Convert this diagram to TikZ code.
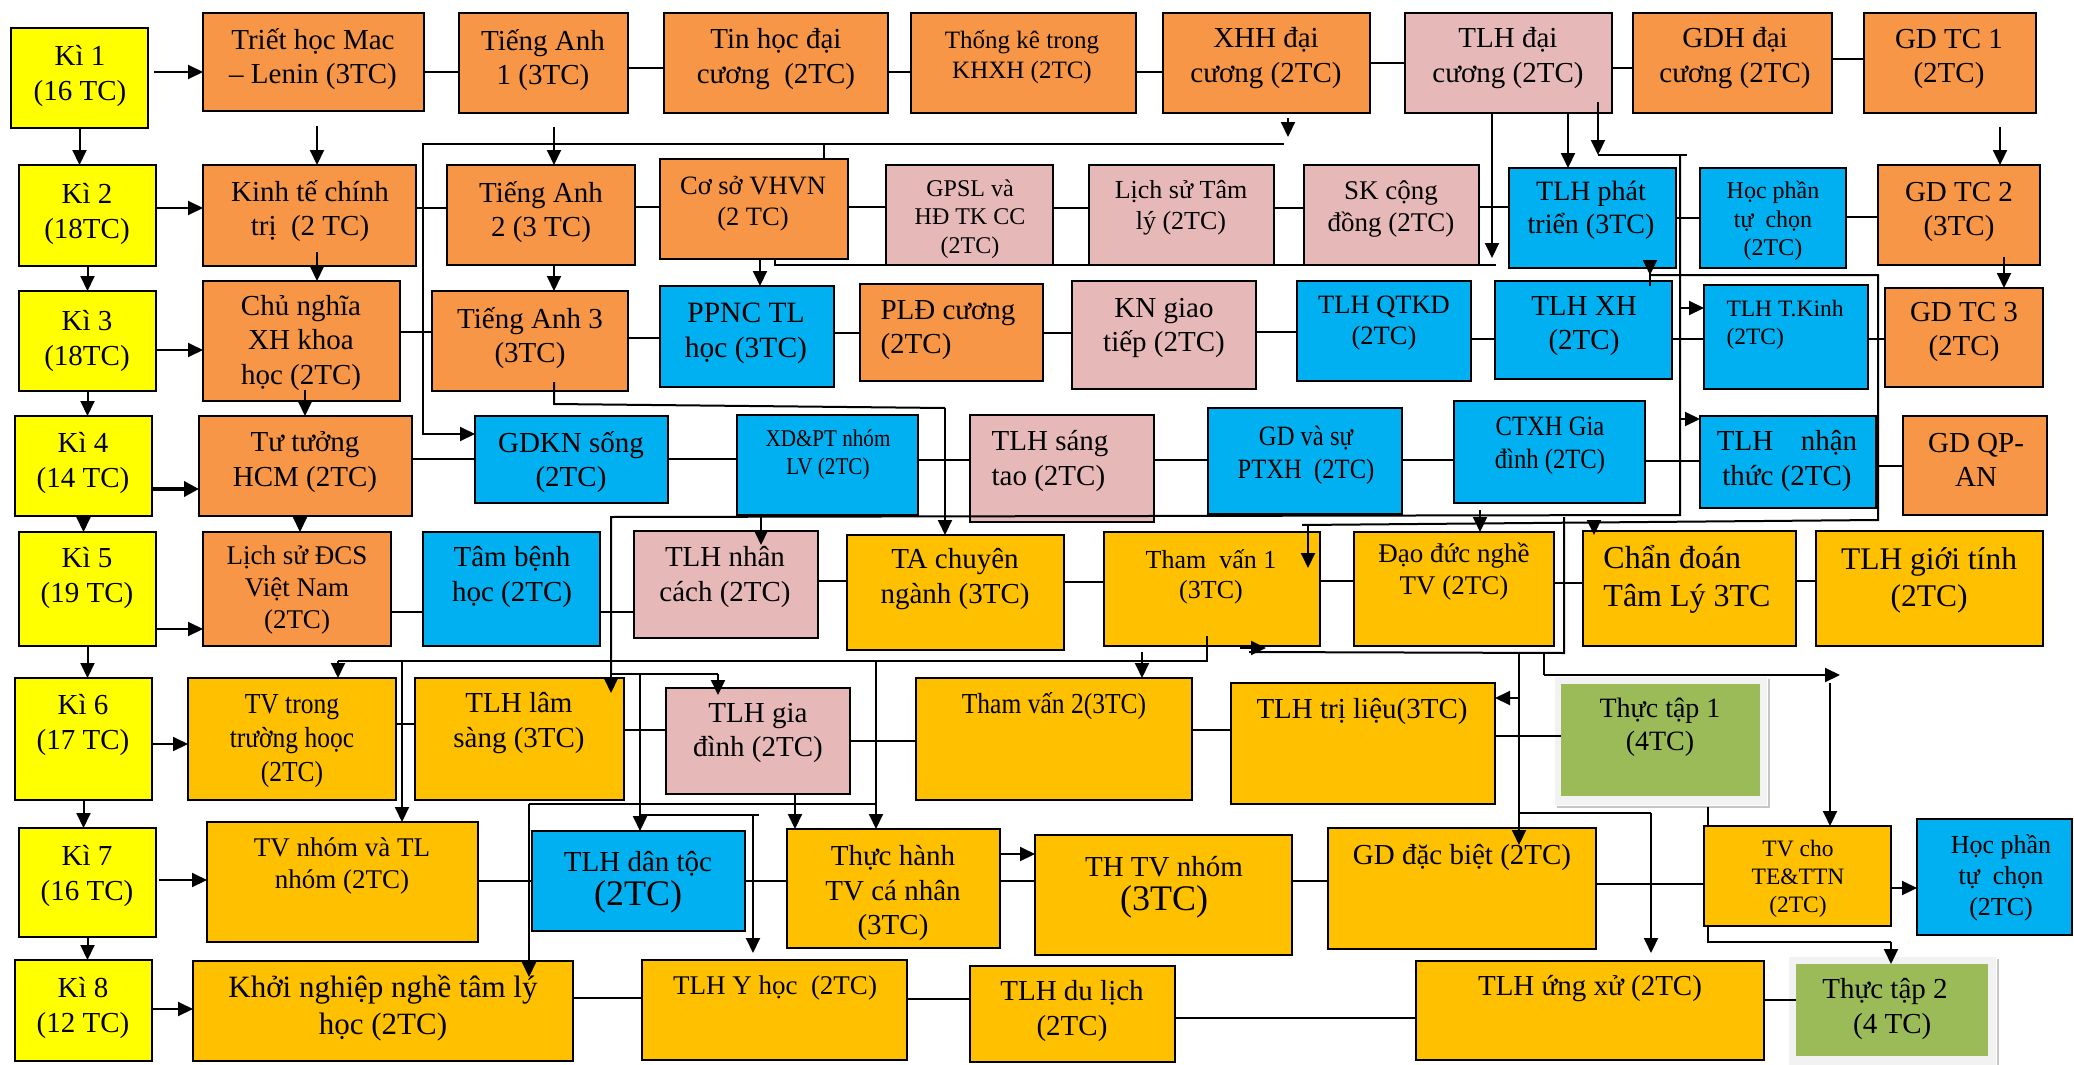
\documentclass[tikz,border=0pt]{standalone}
\usepackage{fontspec}
\setmainfont{Liberation Serif}
\newfontfamily\cond[FakeStretch=0.88]{Liberation Serif}
\usetikzlibrary{arrows.meta}
\definecolor{cYel}{HTML}{FFFF00}
\definecolor{cOrg}{HTML}{F79646}
\definecolor{cPnk}{HTML}{E6B9B8}
\definecolor{cBlu}{HTML}{00B0F0}
\definecolor{cGld}{HTML}{FFC000}
\definecolor{cGrn}{HTML}{9BBB59}
\definecolor{cFrm}{HTML}{F2F2F2}
\newcommand\FS[1]{\fontsize{#1}{\fpeval{1.18*#1}}\selectfont}
\newcommand\Bx[6]{\node[#2, minimum width={#5-#3}, minimum height={#6-#4}] (#1) at ({(#3+#5)/2},{(#4+#6)/2}) {};}
\newcommand\Tx[6][]{\node[lbl, font=\FS{#5}, #1] (#2-t) at (#3,#4) {#6};}
\begin{document}
\begin{tikzpicture}[x=1pt,y=-1pt,
 box/.style={draw=black,line width=2pt,inner sep=0pt,outer sep=0pt},
 yel/.style={box,fill=cYel}, org/.style={box,fill=cOrg}, pnk/.style={box,fill=cPnk},
 blu/.style={box,fill=cBlu}, gld/.style={box,fill=cGld},
 grn/.style={fill=cGrn,inner sep=0pt,outer sep=0pt},
 lbl/.style={align=center,inner sep=0pt,text=black},
 cn/.style={line width=2pt},
 ca/.style={line width=2pt,-{Triangle[length=15pt,width=14pt]}}]
\fill[white] (0,0) rectangle (2074,1065);
\useasboundingbox (0,0) rectangle (2074,1065);
% ---------- boxes ----------
\Bx{k1}{yel}{11}{28}{148}{128}
\Bx{k2}{yel}{19}{165}{156}{266}
\Bx{k3}{yel}{19}{291}{156}{391}
\Bx{k4}{yel}{15}{416}{152}{516}
\Bx{k5}{yel}{19}{532}{156}{646}
\Bx{k6}{yel}{15}{678}{152}{800}
\Bx{k7}{yel}{19}{828}{156}{937}
\Bx{k8}{yel}{15}{960}{152}{1061}
\Bx{tri}{org}{203}{13}{424}{111}
\Bx{ta1}{org}{459}{13}{628}{113}
\Bx{tin}{org}{664}{13}{888}{113}
\Bx{tk}{org}{911}{13}{1136}{113}
\Bx{xhh}{org}{1163}{13}{1370}{113}
\Bx{tlhdc}{pnk}{1405}{13}{1612}{113}
\Bx{gdh}{org}{1633}{13}{1832}{113}
\Bx{gdtc1}{org}{1864}{13}{2036}{113}
\Bx{kt}{org}{203}{165}{416}{266}
\Bx{ta2}{org}{447}{165}{635}{265}
\Bx{csvh}{org}{660}{159}{848}{259}
\Bx{gpsl}{pnk}{886}{165}{1053}{265}
\Bx{lstl}{pnk}{1089}{165}{1274}{265}
\Bx{skcd}{pnk}{1304}{165}{1479}{265}
\Bx{tlhpt}{blu}{1509}{168}{1676}{268}
\Bx{hp1}{blu}{1700}{168}{1846}{268}
\Bx{gdtc2}{org}{1878}{165}{2040}{265}
\Bx{cnxh}{org}{203}{281}{400}{401}
\Bx{ta3}{org}{432}{291}{628}{391}
\Bx{ppnc}{blu}{660}{286}{834}{387}
\Bx{pld}{org}{860}{284}{1043}{381}
\Bx{kngt}{pnk}{1072}{281}{1256}{389}
\Bx{qtkd}{blu}{1297}{281}{1471}{381}
\Bx{tlhxh}{blu}{1495}{281}{1672}{379}
\Bx{tkinh}{blu}{1704}{285}{1868}{389}
\Bx{gdtc3}{org}{1885}{288}{2043}{387}
\Bx{hcm}{org}{199}{416}{412}{516}
\Bx{gdkn}{blu}{475}{416}{668}{503}
\Bx{xdpt}{blu}{737}{415}{918}{515}
\Bx{sangtao}{pnk}{970}{415}{1154}{522}
\Bx{gdptxh}{blu}{1208}{408}{1402}{514}
\Bx{ctxh}{blu}{1454}{401}{1645}{503}
\Bx{nhanthuc}{blu}{1700}{416}{1876}{508}
\Bx{qpan}{org}{1903}{416}{2047}{515}
\Bx{lsdcs}{org}{203}{532}{391}{646}
\Bx{tambenh}{blu}{423}{532}{600}{646}
\Bx{nhancach}{pnk}{634}{531}{818}{638}
\Bx{tacn}{gld}{847}{535}{1064}{650}
\Bx{tv1}{gld}{1104}{532}{1320}{646}
\Bx{daoduc}{gld}{1354}{532}{1554}{646}
\Bx{chandoan}{gld}{1583}{531}{1796}{646}
\Bx{gioitinh}{gld}{1816}{531}{2043}{646}
\Bx{tvtruong}{gld}{188}{678}{396}{800}
\Bx{lamsang}{gld}{415}{678}{624}{800}
\Bx{giadinh}{pnk}{666}{688}{850}{794}
\Bx{tv2}{gld}{916}{678}{1192}{800}
\Bx{trilieu}{gld}{1231}{683}{1495}{804}
\fill[cFrm] (1555,677) rectangle (1767,805);
\draw[gray!45,line width=1.5pt] (1769,679) -- (1769,807) -- (1557,807);
\Bx{tt1}{grn}{1561}{684}{1760}{796}
\Bx{tvnhom}{gld}{207}{822}{478}{942}
\Bx{dantoc}{blu}{532}{831}{745}{931}
\Bx{thtvcn}{gld}{787}{829}{1000}{948}
\Bx{thtvn}{gld}{1035}{835}{1292}{955}
\Bx{gddb}{gld}{1328}{828}{1596}{949}
\Bx{tvte}{gld}{1704}{826}{1891}{926}
\Bx{hp2}{blu}{1917}{819}{2072}{935}
\Bx{khoi}{gld}{193}{961}{573}{1061}
\Bx{yhoc}{gld}{642}{960}{907}{1060}
\Bx{dulich}{gld}{970}{966}{1175}{1062}
\Bx{ungxu}{gld}{1416}{961}{1764}{1060}
\fill[cFrm] (1789,957) rectangle (1996,1065);
\draw[gray!45,line width=1.5pt] (1998,959) -- (1998,1065);
\Bx{tt2}{grn}{1796}{964}{1988}{1056}
% ---------- semester chain ----------
\foreach \a/\b in {k1/k2,k2/k3,k3/k4,k4/k5,k5/k6,k6/k7,k7/k8}
  \draw[ca] (\a.south) -- (\a.south |- \b.north);
\draw[ca,shorten <=6pt] (k1.east |- 0,72) -- (tri.west |- 0,72);
\draw[ca] (k2.east |- 0,208) -- (kt.west |- 0,208);
\draw[ca] (k3.east |- 0,350) -- (cnxh.west |- 0,350);
\draw[line width=4pt,-{Triangle[length=15pt,width=15pt]}] (k4.east |- 0,489) -- (hcm.west |- 0,489);
\draw[ca] (k5.east |- 0,629) -- (lsdcs.west |- 0,629);
\draw[ca] (k6.east |- 0,744) -- (tvtruong.west |- 0,744);
\draw[ca,shorten <=3pt] (k7.east |- 0,880) -- (tvnhom.west |- 0,880);
\draw[ca] (k8.east |- 0,1009) -- (khoi.west |- 0,1009);
% ---------- row links ----------
\foreach \a/\b/\y in {tri/ta1/72,ta1/tin/68,tin/tk/72,tk/xhh/72,xhh/tlhdc/63,tlhdc/gdh/68,gdh/gdtc1/59,
 kt/ta2/208,ta2/csvh/207,csvh/gpsl/207,gpsl/lstl/208,lstl/skcd/208,skcd/tlhpt/207,tlhpt/hp1/218,hp1/gdtc2/217,
 cnxh/ta3/332,ta3/ppnc/338,ppnc/pld/333,pld/kngt/333,kngt/qtkd/332,qtkd/tlhxh/339,tlhxh/tkinh/339,tkinh/gdtc3/339,
 hcm/gdkn/459,gdkn/xdpt/459,xdpt/sangtao/460,sangtao/gdptxh/460,gdptxh/ctxh/460,ctxh/nhanthuc/461,nhanthuc/qpan/466,
 lsdcs/tambenh/612,tambenh/nhancach/612,nhancach/tacn/581,tacn/tv1/582,tv1/daoduc/581,daoduc/chandoan/583,chandoan/gioitinh/581,
 tvtruong/lamsang/724,lamsang/giadinh/730,giadinh/tv2/741,tv2/trilieu/730,trilieu/tt1/736,
 tvnhom/dantoc/881,dantoc/thtvcn/881,thtvcn/thtvn/881,thtvn/gddb/881,gddb/tvte/884,
 khoi/yhoc/998,yhoc/dulich/999,dulich/ungxu/1018,ungxu/tt2/1000}
  \draw[cn] (\a.east |- 0,\y) -- (\b.west |- 0,\y);
\draw[ca] (thtvcn.east |- 0,854) -- (thtvn.west |- 0,854);
\draw[ca] (tvte.east |- 0,888) -- (hp2.west |- 0,888);
% ---------- vertical arrows ----------
\draw[ca,shorten <=15pt] (tri.south -| 317,0) -- (kt.north -| 317,0);
\draw[ca,shorten <=-14pt] (kt.south -| 317,0) -- (cnxh.north -| 317,0);
\draw[ca,shorten <=14pt] (ta1.south -| 554,0) -- (ta2.north -| 554,0);
\draw[ca] (ta2.south -| 554,0) -- (ta3.north -| 554,0);
\draw[ca,shorten <=14pt] (gdtc1.south -| 2000,0) -- (gdtc2.north -| 2000,0);
\draw[ca,shorten <=-8pt] (gdtc2.south -| 2004,0) -- (gdtc3.north -| 2004,0);
\draw[ca,shorten <=-11pt] (cnxh.south -| 305,0) -- (hcm.north -| 305,0);
\draw[ca] (hcm.south -| 300,0) -- (lsdcs.north -| 300,0);
\draw[ca] (csvh.south -| 760,0) -- (ppnc.north -| 760,0);
\draw[ca] (giadinh.south -| 795,0) -- (thtvcn.north -| 795,0);
\draw[ca,shorten <=7pt] (ctxh.south -| 1480,0) -- (daoduc.north -| 1480,0);
\draw[ca,shorten <=6pt] (tv1.south -| 1142,0) -- (tv2.north -| 1142,0);
% ---------- XHH branch ----------
\draw[ca,shorten <=5pt] (xhh.south -| 1288,0) -- (1288,137);
\draw[ca] (1284,144) -- (423,144) -- (423,434) -- (gdkn.west |- 0,434);
\draw[cn] (824,144) -- (csvh.north -| 824,0);
% ---------- TLH dai cuong branch ----------
\draw[ca] (tlhdc.south -| 1492,0) -- (1492,258);
\draw[cn] (csvh.south -| 775,0) -- (775,265) -- (1496,265);
\draw[ca] (tlhdc.south -| 1568,0) -- (tlhpt.north -| 1568,0);
\draw[ca,shorten <=-11pt] (tlhdc.south -| 1598,0) -- (1598,155);
\draw[cn] (1598,155) -- (1687,155);
\draw[cn] (1680,155) -- (1680,515) -- (611,517) -- (611,674);
\draw[ca,shorten >=-15pt] (611,674) -- (lamsang.north -| 611,0);
\draw[ca] (1680,308) -- (tkinh.west |- 0,308);
\draw[ca] (1680,419) -- (nhanthuc.west |- 0,419);
\draw[ca,shorten >=-14pt] (xdpt.south -| 761,0) -- (nhancach.north -| 761,0);
\draw[cn] (611,674) -- (718,674);
\draw[ca,shorten >=-7pt] (718,674) -- (giadinh.north -| 718,0);
\draw[cn] (640,674) -- (640,815) -- (759,815);
\draw[ca] (640,815) -- (dantoc.north -| 640,0);
\draw[ca,shorten >=7pt] (753,815) -- (yhoc.north -| 753,0);
% ---------- TA3 branch ----------
\draw[cn] (554,382) -- (554,404) -- (945,408);
\draw[ca] (945,408) -- (tacn.north -| 945,0);
% ---------- Tham van 1 branch ----------
\draw[cn] (1207,636) -- (1207,661) -- (338,661);
\draw[ca] (338,661) -- (tvtruong.north -| 338,0);
\draw[ca] (402,661) -- (tvnhom.north -| 402,0);
\draw[ca] (876,661) -- (thtvcn.north -| 876,0);
\draw[cn] (876,804) -- (529,804);
\draw[ca,shorten >=-16pt] (529,804) -- (khoi.north -| 529,0);
% ---------- right side ----------
\draw[cn] (1564,517) -- (1564,653) -- (1249,652);
\draw[ca] (1240,648) -- (1266,648);
\draw[ca,shorten >=-17pt] (1519,653) -- (gddb.north -| 1519,0);
\draw[ca] (1519,698) -- (trilieu.east |- 0,698);
\draw[cn] (1544,653) -- (1544,675);
\draw[ca] (1544,675) -- (1840,675);
\draw[ca] (1830,683) -- (tvte.north -| 1830,0);
\draw[cn] (1519,813) -- (1651,813);
\draw[ca,shorten >=8pt] (1651,813) -- (ungxu.north -| 1651,0);
% ---------- GD TC 2 branch ----------
\draw[ca,shorten <=-18pt] (tlhpt.south -| 1650,0) -- (1650,275);
\draw[cn] (1650,275) -- (1878,275) -- (1878,520) -- (1302,525);
\draw[ca,shorten >=-36pt] (1308,525) -- (tv1.north -| 1308,0);
\draw[ca,shorten >=-4pt] (1594,521) -- (chandoan.north -| 1594,0);
% ---------- Thuc tap ----------
\draw[cn] (1708,807) -- (tvte.north -| 1708,0);
\draw[cn] (tvte.south -| 1708,0) -- (1708,942) -- (1891,942);
\draw[ca] (1891,942) -- (tt2.north -| 1891,0);
% ---------- texts ----------
\Tx{k1}{80}{76}{29}{Kì 1\\(16 TC)}
\Tx{k2}{87}{214}{29}{Kì 2\\(18TC)}
\Tx{k3}{87}{341}{29}{Kì 3\\(18TC)}
\Tx{k4}{83}{463}{29}{Kì 4\\(14 TC)}
\Tx{k5}{87}{578}{29}{Kì 5\\(19 TC)}
\Tx{k6}{83}{725}{29}{Kì 6\\(17 TC)}
\Tx{k7}{87}{876}{29}{Kì 7\\(16 TC)}
\Tx{k8}{83}{1008}{29}{Kì 8\\(12 TC)}
\Tx{tri}{313}{59}{29}{Triết học Mac\\– Lenin (3TC)}
\Tx{ta1}{543}{60}{29}{Tiếng Anh\\1 (3TC)}
\Tx{tin}{776}{59}{29}{Tin học đại\\cương\ \ (2TC)}
\Tx{tk}{1022}{57}{25}{Thống kê trong\\KHXH (2TC)}
\Tx{xhh}{1266}{58}{29}{XHH đại\\cương (2TC)}
\Tx{tlhdc}{1508}{58}{29}{TLH đại\\cương (2TC)}
\Tx{gdh}{1735}{58}{29}{GDH đại\\cương (2TC)}
\Tx{gdtc1}{1949}{59}{29}{GD TC 1\\(2TC)}
\Tx{kt}{310}{211}{29}{Kinh tế chính\\trị\ \ (2 TC)}
\Tx{ta2}{541}{212}{29}{Tiếng Anh\\2 (3 TC)}
\Tx{csvh}{753}{204}{26.5}{Cơ sở VHVN\\(2 TC)}
\Tx{gpsl}{970}{219}{24}{GPSL và\\HĐ TK CC\\(2TC)}
\Tx{lstl}{1181}{208}{26}{Lịch sử Tâm\\lý (2TC)}
\Tx{skcd}{1391}{209}{27}{SK cộng\\đồng (2TC)}
\Tx{tlhpt}{1591}{210}{28}{TLH phát\\triển (3TC)}
\Tx{hp1}{1773}{221}{24}{Học phần\\tự\ \ chọn\\(2TC)}
\Tx{gdtc2}{1959}{212}{29}{GD TC 2\\(3TC)}
\Tx{cnxh}{301}{343}{29}{Chủ nghĩa\\XH khoa\\học (2TC)}
\Tx{ta3}{530}{338}{29}{Tiếng Anh 3\\(3TC)}
\Tx{ppnc}{746}{333}{29.5}{PPNC TL\\học (3TC)}
\Tx[align=left]{pld}{948}{330}{29}{PLĐ cương\\(2TC)}
\Tx{kngt}{1164}{328}{29}{KN giao\\tiếp (2TC)}
\Tx{qtkd}{1384}{323}{26.5}{TLH QTKD\\(2TC)}
\Tx{tlhxh}{1584}{326}{29}{TLH XH\\(2TC)}
\Tx[align=left]{tkinh}{1785}{325}{23.5}{TLH T.Kinh\\(2TC)}
\Tx{gdtc3}{1964}{332}{29}{GD TC 3\\(2TC)}
\Tx{hcm}{305}{462}{29}{Tư tưởng\\HCM (2TC)}
\Tx{gdkn}{571}{462}{29}{GDKN sống\\(2TC)}
\Tx[font=\cond\FS{24}]{xdpt}{828}{455}{24}{XD\&PT nhóm\\LV (2TC)}
\Tx[align=left]{sangtao}{1050}{461}{29}{TLH sáng\\tao (2TC)}
\Tx[font=\cond\FS{28}]{gdptxh}{1306}{455}{28}{GD và sự\\PTXH\ \ (2TC)}
\Tx[font=\cond\FS{28}]{ctxh}{1550}{446}{28}{CTXH Gia\\đình (2TC)}
\Tx{nhanthuc}{1787}{461}{29}{TLH\hspace{0.7em} nhận\\thức (2TC)}
\Tx{qpan}{1976}{460}{29}{GD QP-\\AN}
\Tx{lsdcs}{297}{590}{27}{Lịch sử ĐCS\\Việt Nam\\(2TC)}
\Tx{tambenh}{512}{577}{29}{Tâm bệnh\\học (2TC)}
\Tx{nhancach}{725}{577}{29}{TLH nhân\\cách (2TC)}
\Tx{tacn}{955}{579}{29}{TA chuyên\\ngành (3TC)}
\Tx{tv1}{1211}{577}{26}{Tham\ \ vấn 1\\(3TC)}
\Tx{daoduc}{1454}{572}{27}{Đạo đức nghề\\TV (2TC)}
\Tx[align=left]{chandoan}{1687}{579}{32}{Chẩn đoán\\Tâm Lý 3TC}
\Tx{gioitinh}{1929}{580}{31.5}{TLH giới tính\\(2TC)}
\Tx[font=\cond\FS{29}]{tvtruong}{292}{741}{29}{TV trong\\trường hoọc\\(2TC)}
\Tx{lamsang}{519}{723}{29}{TLH lâm\\sàng (3TC)}
\Tx{giadinh}{758}{733}{29}{TLH gia\\đình (2TC)}
\Tx[font=\cond\FS{29}]{tv2}{1054}{706}{29}{Tham vấn 2(3TC)}
\Tx{trilieu}{1362}{711}{29}{TLH trị liệu(3TC)}
\Tx{tt1}{1660}{727}{28}{Thực tập 1\\(4TC)}
\Tx{tvnhom}{342}{866}{27}{TV nhóm và TL\\nhóm (2TC)}
\Tx{dantoc}{638}{882}{29}{TLH dân tộc\\{\fontsize{36}{40}\selectfont (2TC)}}
\Tx{thtvcn}{893}{893}{29}{Thực hành\\TV cá nhân\\(3TC)}
\Tx{thtvn}{1164}{887}{29}{TH TV nhóm\\{\fontsize{36}{40}\selectfont (3TC)}}
\Tx{gddb}{1462}{857}{29}{GD đặc biệt (2TC)}
\Tx{tvte}{1798}{879}{23.5}{TV cho\\TE\&TTN\\(2TC)}
\Tx{hp2}{2001}{878}{26}{Học phần\\tự\ \ chọn\\(2TC)}
\Tx{khoi}{383}{1008}{31}{Khởi nghiệp nghề tâm lý\\học (2TC)}
\Tx{yhoc}{775}{988}{27}{TLH Y học\ \ (2TC)}
\Tx{dulich}{1072}{1011}{29}{TLH du lịch\\(2TC)}
\Tx{ungxu}{1590}{989}{29}{TLH ứng xử (2TC)}
\Tx{tt2}{1885}{1009}{29}{Thực tập 2\\\ \ (4 TC)}
\end{tikzpicture}
\end{document}
